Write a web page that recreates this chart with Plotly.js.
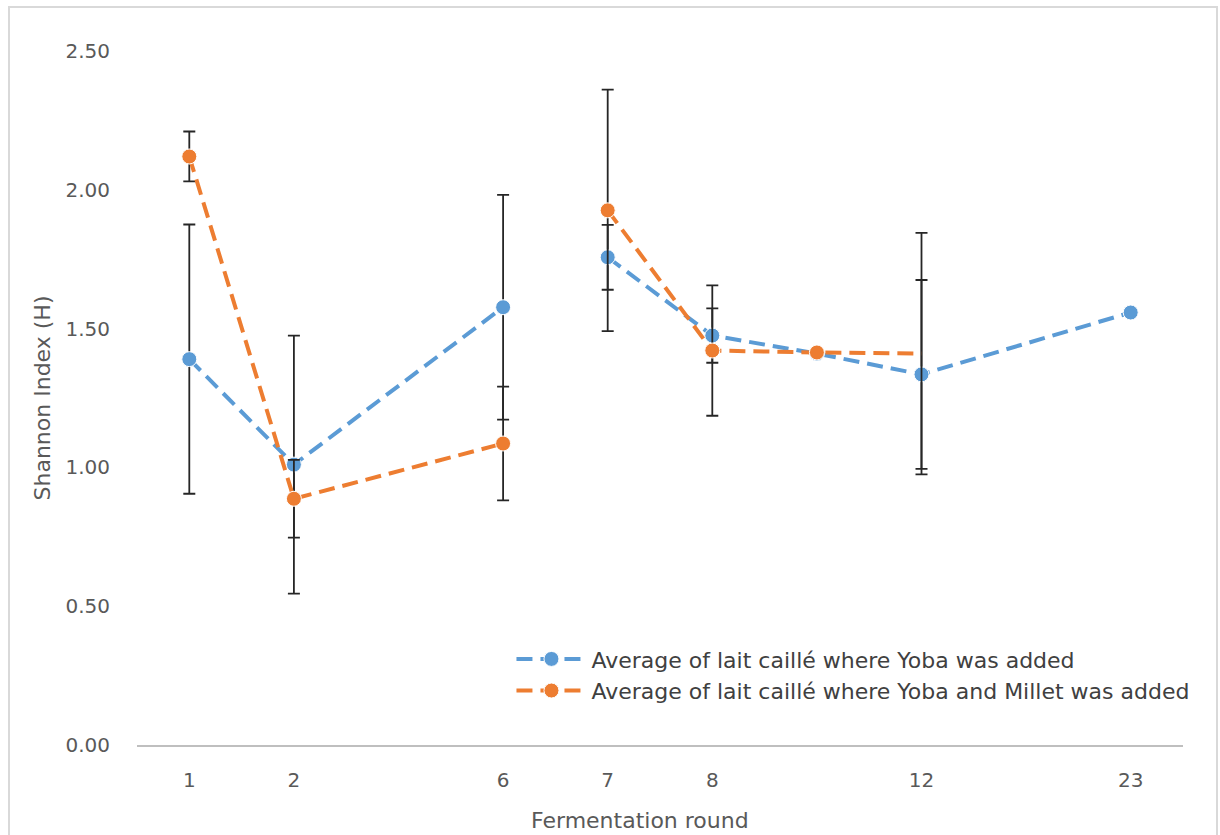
<!DOCTYPE html>
<html>
<head>
<meta charset="utf-8">
<script src="https://cdn.plot.ly/plotly-3.0.1.min.js"></script>
<style>html,body{margin:0;padding:0;background:#fff}#chart{width:1220px;height:835px}</style>
</head>
<body>
<div id="chart"></div>
<script>
// Category slots on the x axis (blank labels are unlabelled slots)
const rounds = ["1", "2", "", "6", "7", "8", "", "12", "", "23"];

// Shannon index, average where Yoba was added
const yobaMean = [1.39, 1.01, null, 1.577, 1.757, 1.475, 1.41, 1.335, null, 1.558];
const yobaErr  = [0.485, 0.465, null, 0.405, 0.117, 0.098, 0, 0.34, null, 0];

// Shannon index, average where Yoba and Millet was added
const milletMean = [2.12, 0.887, null, 1.086, 1.926, 1.421, 1.414, 1.41, null, null];
const milletErr  = [0.09, 0.14, null, 0.205, 0.435, 0.235, 0, 0.435, null, null];

// The lines are broken between round 6 and round 7
const segments = [[0, 3], [4, 9]];

const names = [
  "Average of lait caillé where Yoba was added",
  "Average of lait caillé where Yoba and Millet was added"
];
const colors = ["#5B9BD5", "#ED7D31"];
const FONT = "DejaVu Sans, Open Sans, sans-serif";

const idx = rounds.map((_, i) => i);
const traces = [];
[[yobaMean, yobaErr], [milletMean, milletErr]].forEach(([mean, err], s) => {
  segments.forEach(([a, b], k) => {
    const xs = idx.slice(a, b + 1);
    const ys = mean.slice(a, b + 1);
    const es = err.slice(a, b + 1).map(v => v == null ? 0 : v);
    // last orange point (round 12) is drawn without a marker
    const sizes = xs.map(i => (s === 1 && i === 7) ? 0 : 15);
    traces.push({
      type: "scatter",
      mode: "lines+markers",
      x: xs, y: ys,
      name: names[s],
      legendgroup: "g" + s,
      showlegend: k === 0,
      connectgaps: true,
      line: {color: colors[s], width: 4, dash: "16px,8px"},
      marker: {color: colors[s], size: sizes, opacity: 1},
      error_y: {type: "data", array: es, visible: true, color: "#262626", thickness: 1.8, width: 6},
      hoverinfo: "skip"
    });
  });
});

const layout = {
  width: 1220, height: 835,
  paper_bgcolor: "#fff", plot_bgcolor: "#fff",
  margin: {l: 137, r: 37, t: 51, b: 90},
  font: {family: FONT, color: "#595959"},
  showlegend: true,
  legend: {
    x: 0.358, y: 0.154, xanchor: "left", yanchor: "top",
    bgcolor: "rgba(255,255,255,0)",
    font: {size: 22, color: "#404040", family: FONT},
    itemwidth: 70, tracegroupgap: 0
  },
  xaxis: {
    range: [-0.5, rounds.length - 0.5],
    tickmode: "array", tickvals: idx, ticktext: rounds,
    showgrid: false, zeroline: false,
    showline: true, linecolor: "#BFBFBF", linewidth: 2,
    ticks: "", ticklabelstandoff: 16,
    tickfont: {size: 20, color: "#595959", family: FONT},
    fixedrange: true
  },
  yaxis: {
    range: [0, 2.5],
    tickvals: [0, 0.5, 1, 1.5, 2, 2.5],
    tickformat: ".2f",
    showgrid: false, zeroline: false, showline: false,
    ticks: "", ticklabelstandoff: 26,
    tickfont: {size: 20, color: "#595959", family: FONT},
    title: {text: "Shannon Index (H)", font: {size: 22, color: "#595959", family: FONT}, standoff: 8},
    fixedrange: true
  },
  annotations: [{
    text: "Fermentation round", xref: "paper", yref: "paper",
    x: (640 - 137) / 1046, y: (745 - 820) / 694, xanchor: "center", yanchor: "middle",
    showarrow: false, font: {size: 22, color: "#595959", family: FONT}
  }],
  shapes: [{
    type: "rect", xref: "paper", yref: "paper",
    x0: (9 - 137) / 1046, x1: (1217 - 137) / 1046,
    y0: (745 - 840) / 694, y1: (745 - 7) / 694,
    line: {color: "#D9D9D9", width: 2}, fillcolor: "rgba(0,0,0,0)", layer: "below"
  }]
};

Plotly.newPlot("chart", traces, layout, {displayModeBar: false, staticPlot: true});
</script>
</body>
</html>
